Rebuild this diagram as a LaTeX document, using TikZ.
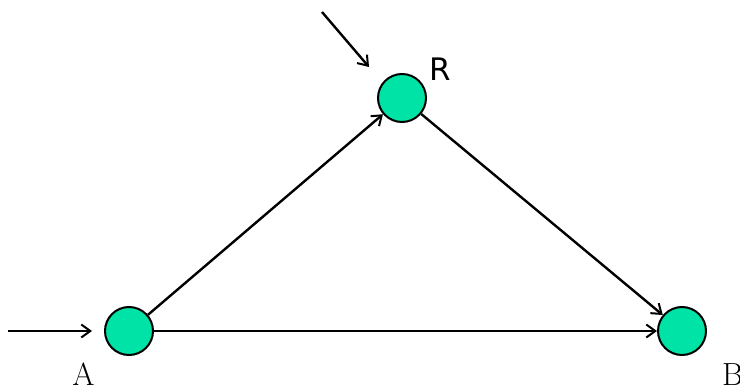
\documentclass[tikz,border=0pt]{standalone}
\usepackage{fontspec}
\usetikzlibrary{arrows.meta}
\newfontfamily\labelsans{DejaVu Sans}
\definecolor{nodegreen}{RGB}{0,227,166}
\tikzset{
  station/.style={circle, draw, line width=2pt, fill=nodegreen, minimum size=48pt, inner sep=0pt},
  flow/.style={-{Straight Barb[length=9pt, width=13pt, line width=2pt]}, line width=2.4pt},
  lbl/.style={font=\fontsize{32}{36}\selectfont, inner sep=0pt}
}
\begin{document}
\begin{tikzpicture}[x=1pt, y=-1pt]
  \useasboundingbox (0,0) rectangle (740,388);
  \node[station] (A) at (129,331) {};
  \node[station] (R) at (402,98) {};
  \node[station] (B) at (682,331) {};
  \coordinate (inA) at (8,331);
  \coordinate (inAtip) at (92,331);
  \coordinate (inR) at (322,12);
  \coordinate (inRtip) at (369,67);
  \draw[flow] (inA) -- (inAtip);
  \draw[flow] (inR) -- (inRtip);
  \draw[flow] (A) -- (R);
  \draw[flow] (R) -- (B);
  \draw[flow] (A) -- (B);
  \node[lbl, font=\fontsize{31}{36}\selectfont\labelsans, anchor=base] (labR) at (440,80) {R};
  \node[lbl, anchor=base] (labA) at (83.5,385) {A};
  \node[lbl, anchor=base west] (labB) at (722,385) {B};
\end{tikzpicture}
\end{document}
